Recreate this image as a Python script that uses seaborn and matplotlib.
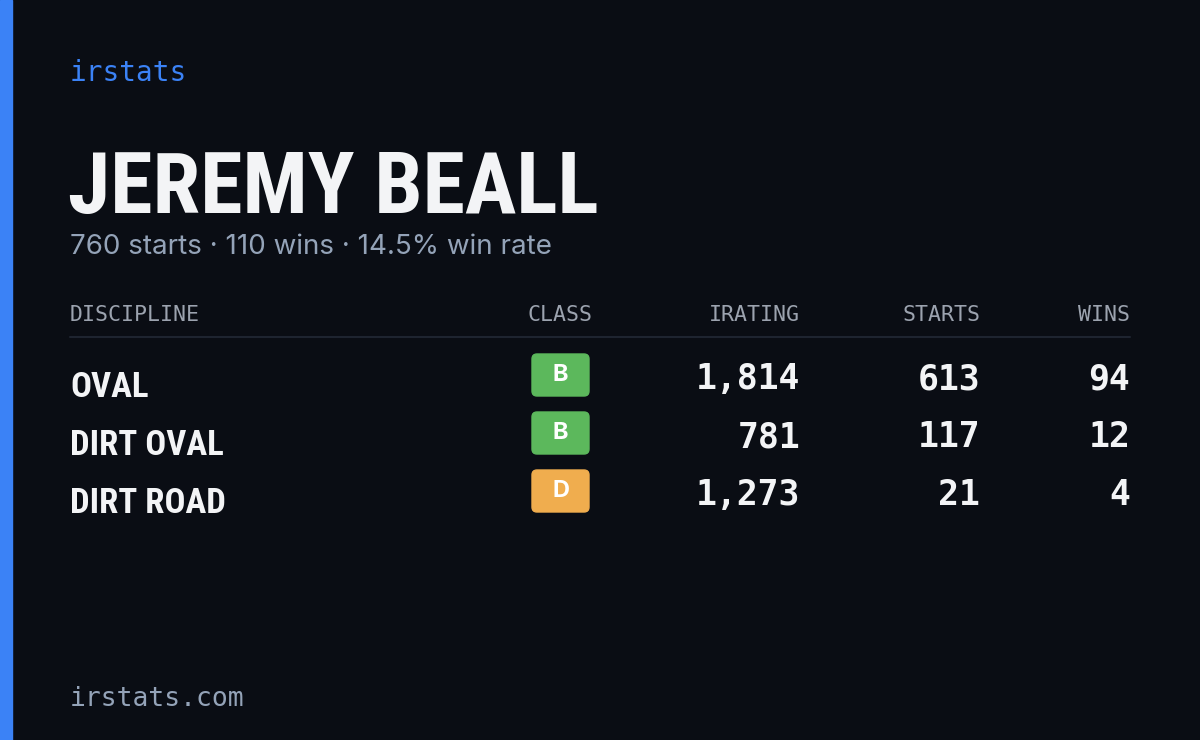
import matplotlib
matplotlib.use("Agg")
import matplotlib.pyplot as plt
from matplotlib.patches import FancyBboxPatch, Rectangle
from matplotlib import font_manager
import seaborn as sns

sns.set_theme(style="dark")

player = "JEREMY BEALL"
summary = "760 starts · 110 wins · 14.5% win rate"
headers = ["DISCIPLINE", "CLASS", "IRATING", "STARTS", "WINS"]
disciplines = ["OVAL", "DIRT OVAL", "DIRT ROAD"]
classes = ["B", "B", "D"]
iratings = [1814, 781, 1273]
starts = [613, 117, 21]
wins = [94, 12, 4]

BG = "#0a0d14"
class_colors = {"B": "#5cb85c", "D": "#f0ad4e", "A": "#3b82f6", "C": "#f5c542", "R": "#e04848"}
names = {f.name for f in font_manager.fontManager.ttflist}
if "Roboto Condensed" in names:
    cond, tsize, rsize = ["Roboto Condensed", "DejaVu Sans"], 62, 25
elif "Liberation Sans Narrow" in names:
    cond, tsize, rsize = ["Liberation Sans Narrow", "DejaVu Sans"], 62, 25
else:
    cond, tsize, rsize = ["Roboto", "DejaVu Sans"], 48, 20
mono = ["DejaVu Sans Mono"]

fig = plt.figure(figsize=(12, 7.4), dpi=100, facecolor=BG)
ax = fig.add_axes([0, 0, 1, 1])
ax.set_facecolor(BG)
ax.set_xlim(0, 1200)
ax.set_ylim(740, 0)
ax.axis("off")

ax.add_patch(Rectangle((0, 0), 12, 740, color="#3b82f6"))
ax.text(70, 81, "irstats", family=mono, fontsize=20, color="#3b82f6", va="baseline")
ax.text(68, 213, player, family=cond, fontsize=tsize, fontweight="bold", color="#f3f4f6", va="baseline")
ax.text(70, 254, summary, family=["Inter", "DejaVu Sans"], fontsize=20, color="#94a3b8", va="baseline")

xs = [70, 560, 800, 980, 1130]
has = ["left", "center", "right", "right", "right"]
for h, x, ha in zip(headers, xs, has):
    ax.text(x, 321, h, family=mono, fontsize=15.5, color="#9ca3af", ha=ha, va="baseline")
ax.plot([70, 1130], [337, 337], color="#1e2430", lw=1.5)

for i, (d, c, r, s, w) in enumerate(zip(disciplines, classes, iratings, starts, wins)):
    yc = 375 + i * 58
    ax.text(70, yc + 22, d, family=cond, fontsize=rsize, fontweight="bold", color="#f3f4f6", va="baseline")
    ax.add_patch(FancyBboxPatch((532 + 5, yc - 21 + 5), 57 - 10, 42 - 10,
                                boxstyle="round,pad=5", color=class_colors[c]))
    ax.text(560.5, yc, c, family=["Inter", "DejaVu Sans"], fontsize=17, fontweight="bold",
            color="white", ha="center", va="center")
    for val, x in zip([f"{r:,}", f"{s}", f"{w}"], xs[2:]):
        ax.text(x, yc + 14, val, family=mono, fontsize=25, fontweight="bold",
                color="#f3f4f6", ha="right", va="baseline")

ax.text(70, 706, "irstats.com", family=mono, fontsize=19, color="#94a3b8", va="baseline")
fig.savefig("out.png", dpi=100, facecolor=BG)
